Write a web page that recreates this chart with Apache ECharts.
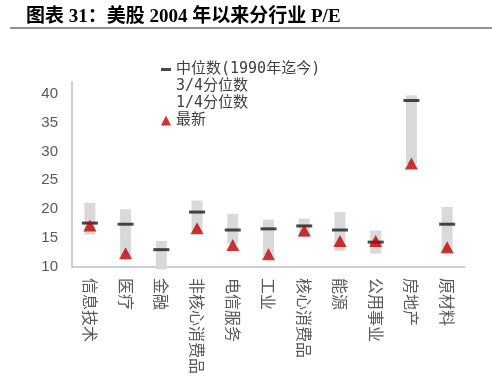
<!DOCTYPE html>
<html>
<head>
<meta charset="utf-8">
<script src="https://cdn.jsdelivr.net/npm/echarts@6/dist/echarts.min.js"></script>
<style>
html,body{margin:0;padding:0;background:#fff;}
#c{width:492px;height:387px;}
</style>
</head>
<body>
<div id="c"></div>
<script>
const categories = ['信息技术','医疗','金融','非核心消费品','电信服务','工业','核心消费品','能源','公用事业','房地产','原材料'];
const q3Values = [21.1, 20.0, 14.5, 21.5, 19.2, 18.2, 18.4, 19.5, 16.3, 39.7, 20.4];
const q1Values = [15.6, 12.0, 9.6, 16.0, 14.0, 12.0, 15.1, 12.8, 12.3, 27.8, 12.8];
const medianValues = [17.6, 17.4, 13.0, 19.5, 16.4, 16.6, 17.1, 16.4, 14.3, 38.8, 17.4];
const latestValues = [17.2, 12.4, null, 16.7, 13.8, 12.2, 16.3, 14.5, 14.5, 27.9, 13.4];

const spreadValues = q3Values.map((v, i) => +(v - q1Values[i]).toFixed(2));

const chart = echarts.init(document.getElementById('c'), null, {renderer: 'canvas'});
const font = '"Noto Sans CJK SC", "Noto Sans", sans-serif';
const legendFont = '"DejaVu Sans Mono", "Noto Sans CJK SC", sans-serif';
chart.setOption({
  animation: false,
  backgroundColor: '#fff',
  title: {
    text: '图表 31：美股 2004 年以来分行业 P/E',
    left: 21, top: 3,
    textStyle: {fontFamily: '"Liberation Serif", "Noto Sans CJK SC", serif', fontSize: 19, fontWeight: 'bold', color: '#000'}
  },
  graphic: [{
    type: 'line', shape: {x1: 10, y1: 28, x2: 492, y2: 28},
    style: {stroke: '#222', lineWidth: 1}
  }],
  legend: {
    orient: 'vertical',
    left: 156, top: 57,
    itemWidth: 10, itemHeight: 10, itemGap: 2,
    textStyle: {fontFamily: legendFont, fontSize: 15, color: '#404040', lineHeight: 15},
    data: [
      {name: '中位数(1990年迄今)', icon: 'path://M0,0 L10,0 L10,3 L0,3 Z', itemStyle: {color: '#1a1a1a'}},
      {name: '3/4分位数', itemStyle: {opacity: 0}},
      {name: '1/4分位数', itemStyle: {opacity: 0}},
      {name: '最新', icon: 'triangle', itemStyle: {color: '#c00000'}}
    ]
  },
  grid: {left: 72, right: 27, top: 82, bottom: 120},
  xAxis: {
    type: 'category',
    data: categories,
    axisLine: {lineStyle: {color: '#bfbfbf', width: 1.5}},
    axisTick: {show: false},
    axisLabel: {rotate: -90, margin: 11, fontFamily: font, fontSize: 16, color: '#595959', interval: 0}
  },
  yAxis: {
    type: 'value',
    min: 10, max: 42, interval: 5,
    splitLine: {show: false},
    axisLine: {show: true, lineStyle: {color: '#bfbfbf', width: 1.5}},
    axisTick: {show: false},
    axisLabel: {showMaxLabel: false, margin: 14, fontFamily: '"Liberation Sans", sans-serif', fontSize: 15, color: '#595959'}
  },
  series: [
    {
      name: '1/4分位数', type: 'bar', stack: 'q', barWidth: 11,
      itemStyle: {color: 'transparent'},
      data: q1Values, z: 1
    },
    {
      name: '3/4分位数', type: 'bar', stack: 'q', barWidth: 11,
      clip: false,
      itemStyle: {color: '#d9d9d9'},
      data: spreadValues, z: 1
    },
    {
      name: '中位数(1990年迄今)', type: 'scatter',
      symbol: 'rect', symbolSize: [16, 3],
      itemStyle: {color: '#1a1a1a'},
      data: medianValues, z: 3
    },
    {
      name: '最新', type: 'scatter',
      symbol: 'triangle', symbolSize: [13, 12],
      itemStyle: {color: '#c00000'},
      data: latestValues, z: 4
    }
  ]
});
</script>
</body>
</html>
